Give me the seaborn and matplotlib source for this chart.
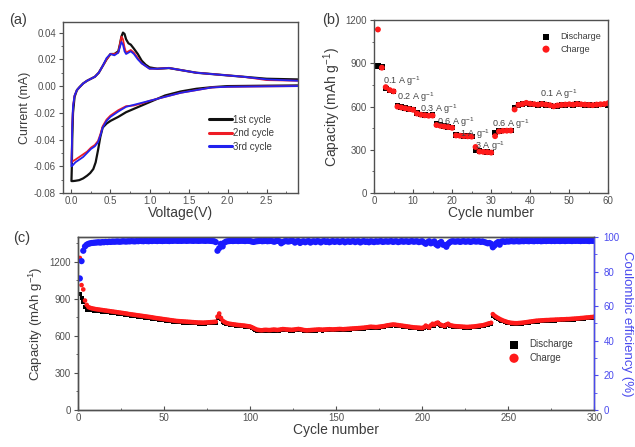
import numpy as np
import matplotlib
matplotlib.use("Agg")
import matplotlib.pyplot as plt
import seaborn as sns
from matplotlib.ticker import MultipleLocator

# ---- (a) CV curves: voltage / current, cathodic scan then anodic scan
cv1_v = [2.9, 2.5, 2.0, 1.8, 1.6, 1.4, 1.2, 1.0, 0.9, 0.8, 0.7, 0.6, 0.5, 0.45, 0.4, 0.37, 0.34, 0.31, 0.28, 0.24, 0.2, 0.15, 0.1, 0.05, 0.02, 0.0,
         0.0, 0.005, 0.01, 0.02, 0.04, 0.07, 0.1, 0.15, 0.2, 0.3, 0.35, 0.4, 0.45, 0.5, 0.55, 0.6, 0.62, 0.64, 0.66, 0.68, 0.7, 0.73, 0.76, 0.8,
         0.85, 0.9, 0.95, 1.0, 1.1, 1.25, 1.4, 1.6, 1.8, 2.0, 2.2, 2.5, 2.9]
cv1_i = [0.0005, 0.0003, 0.0, -0.0008, -0.002, -0.004, -0.007, -0.012, -0.0145, -0.017, -0.0195, -0.023, -0.026, -0.028, -0.031, -0.038,
         -0.048, -0.057, -0.062, -0.065, -0.067, -0.069, -0.0703, -0.0708, -0.071, -0.071,
         -0.071, -0.06, -0.04, -0.02, -0.008, -0.003, -0.001, 0.002, 0.004, 0.007, 0.010, 0.015, 0.02, 0.024, 0.024, 0.026, 0.031, 0.037, 0.040,
         0.039, 0.035, 0.032, 0.031, 0.028, 0.024, 0.019, 0.016, 0.014, 0.013, 0.0135, 0.012, 0.010, 0.009, 0.008, 0.007, 0.0055, 0.005]
cv2_v = [2.9, 2.5, 2.0, 1.8, 1.6, 1.4, 1.2, 1.0, 0.9, 0.8, 0.7, 0.6, 0.5, 0.45, 0.4, 0.37, 0.34, 0.3, 0.25, 0.2, 0.15, 0.1, 0.05, 0.02, 0.0,
         0.0, 0.005, 0.01, 0.02, 0.04, 0.07, 0.1, 0.15, 0.2, 0.3, 0.35, 0.4, 0.45, 0.5, 0.55, 0.6, 0.62, 0.64, 0.66, 0.68, 0.7, 0.73, 0.76, 0.8,
         0.85, 0.9, 0.95, 1.0, 1.1, 1.25, 1.4, 1.6, 1.8, 2.0, 2.2, 2.5, 2.9]
cv2_i = [0.0, -0.0002, -0.0005, -0.001, -0.003, -0.005, -0.008, -0.011, -0.013, -0.0145, -0.015, -0.018, -0.022, -0.025, -0.03, -0.036,
         -0.041, -0.044, -0.046, -0.049, -0.051, -0.053, -0.055, -0.056, -0.057,
         -0.057, -0.045, -0.03, -0.015, -0.007, -0.003, -0.001, 0.002, 0.004, 0.007, 0.010, 0.015, 0.02, 0.024, 0.024, 0.025, 0.031, 0.037,
         0.035, 0.029, 0.025, 0.026, 0.027, 0.025, 0.021, 0.017, 0.015, 0.013, 0.013, 0.0135, 0.012, 0.010, 0.009, 0.008, 0.007, 0.0045, 0.004]
cv3_v = cv2_v
cv3_i = [0.0, -0.0002, -0.0005, -0.001, -0.003, -0.005, -0.008, -0.011, -0.0125, -0.014, -0.0155, -0.019, -0.023, -0.026, -0.031, -0.037,
         -0.042, -0.045, -0.047, -0.05, -0.053, -0.055, -0.057, -0.059, -0.06,
         -0.06, -0.046, -0.03, -0.015, -0.007, -0.003, -0.001, 0.002, 0.004, 0.007, 0.010, 0.015, 0.021, 0.024, 0.023, 0.025, 0.029, 0.033,
         0.031, 0.026, 0.024, 0.025, 0.026, 0.024, 0.020, 0.017, 0.015, 0.013, 0.013, 0.0135, 0.012, 0.010, 0.009, 0.008, 0.007, 0.005, 0.004]

# ---- (b) rate performance
rate_cycle = list(range(1, 61))
rate_dis = [880, 875, 726, 712, 705, 608, 596, 590, 585, 580,
            555, 546, 541, 538, 540, 478, 470, 465, 460, 455,
            405, 400, 398, 395, 393, 298, 290, 288, 285, 282,
            420, 430, 434, 435, 435, 590, 610, 616, 622, 618,
            615, 612, 616, 612, 608, 600, 606, 610, 612, 614,
            612, 616, 614, 612, 610, 608, 612, 614, 615, 612]
rate_chg = [1135, 870, 735, 715, 706, 600, 594, 588, 583, 578,
            552, 544, 540, 537, 538, 472, 467, 462, 458, 453,
            400, 398, 396, 394, 392, 320, 288, 286, 284, 281,
            395, 428, 432, 433, 434, 580, 612, 618, 626, 620,
            617, 614, 618, 614, 610, 602, 608, 612, 614, 616,
            614, 618, 616, 614, 612, 610, 614, 616, 618, 624]
rate_labels = ["0.1 A g$^{-1}$", "0.2 A g$^{-1}$", "0.3 A g$^{-1}$", "0.6 A g$^{-1}$", "1 A g$^{-1}$",
               "3 A g$^{-1}$", "0.6 A g$^{-1}$", "0.1 A g$^{-1}$"]
rate_label_x = [2.3, 5.9, 11.8, 16.2, 21.9, 25.9, 30.3, 42.6]
rate_label_y = [760, 648, 562, 470, 388, 305, 458, 664]

# ---- (c) long cycling
cyc = list(range(1, 301))
cyc_dis = [935, 905, 870, 835, 812, 810, 808, 806, 804, 802,
           800, 798, 797, 795, 794, 792, 790, 789, 787, 785,
           783, 781, 779, 777, 775, 773, 771, 769, 767, 765,
           763, 761, 759, 757, 755, 753, 751, 749, 747, 745,
           743, 741, 739, 737, 735, 733, 731, 729, 727, 725,
           723, 721, 719, 717, 715, 713, 711, 710, 709, 708,
           707, 706, 705, 704, 703, 702, 701, 700, 699, 698,
           698, 697, 697, 698, 699, 700, 701, 702, 703, 705,
           740, 765, 735, 715, 705, 698, 694, 690, 688, 686,
           684, 682, 680, 679, 677, 676, 674, 672, 670, 668,
           662, 655, 648, 642, 640, 638, 638, 640, 641, 640,
           639, 640, 642, 643, 641, 640, 642, 645, 647, 646,
           644, 643, 642, 641, 642, 644, 646, 648, 646, 643,
           640, 638, 637, 638, 639, 640, 641, 642, 643, 644,
           643, 642, 643, 644, 645, 646, 645, 644, 645, 646,
           647, 648, 647, 646, 647, 648, 649, 650, 651, 652,
           653, 654, 655, 656, 657, 658, 660, 662, 664, 666,
           665, 664, 663, 664, 666, 668, 670, 672, 675, 678,
           680, 682, 684, 683, 681, 679, 677, 675, 673, 671,
           669, 667, 665, 663, 661, 660, 659, 658, 657, 656,
           662, 675, 668, 660, 678, 690, 682, 695, 700, 688,
           680, 676, 672, 684, 690, 680, 676, 673, 671, 670,
           669, 668, 667, 666, 665, 664, 665, 666, 667, 668,
           670, 672, 674, 676, 678, 681, 685, 690, 694, 698,
           760, 750, 742, 735, 728, 722, 716, 711, 706, 702,
           699, 697, 696, 695, 695, 696, 697, 698, 700, 702,
           704, 706, 708, 710, 712, 714, 715, 716, 717, 718,
           719, 720, 720, 721, 722, 722, 723, 724, 724, 725,
           726, 726, 727, 728, 728, 729, 730, 731, 732, 733,
           734, 736, 737, 738, 740, 741, 742, 744, 745, 747]
cyc_chg = [1230, 1010, 975, 885, 850, 832, 826, 822, 819, 816,
           814, 812, 810, 808, 806, 804, 802, 800, 798, 796,
           794, 792, 790, 788, 786, 784, 782, 780, 777, 775,
           773, 771, 769, 767, 765, 763, 761, 759, 757, 755,
           753, 751, 749, 746, 744, 742, 740, 738, 736, 734,
           732, 730, 728, 726, 724, 722, 720, 719, 718, 717,
           716, 715, 714, 713, 712, 711, 710, 709, 708, 707,
           707, 706, 706, 707, 708, 709, 710, 711, 712, 714,
           755, 780, 745, 722, 712, 705, 700, 697, 695, 693,
           691, 689, 687, 686, 684, 683, 681, 679, 677, 675,
           669, 662, 655, 649, 647, 645, 645, 647, 648, 647,
           646, 647, 649, 650, 648, 647, 649, 652, 654, 653,
           651, 650, 649, 648, 649, 651, 653, 655, 653, 650,
           647, 645, 644, 645, 646, 647, 648, 649, 650, 651,
           650, 649, 650, 651, 652, 653, 652, 651, 652, 653,
           654, 655, 654, 653, 654, 655, 656, 657, 658, 659,
           660, 661, 662, 663, 664, 665, 667, 669, 671, 673,
           672, 671, 670, 671, 673, 675, 677, 679, 682, 685,
           687, 689, 691, 690, 688, 686, 684, 682, 680, 678,
           676, 674, 672, 670, 668, 667, 666, 665, 664, 663,
           669, 682, 675, 667, 685, 697, 689, 702, 707, 695,
           687, 683, 679, 691, 697, 687, 683, 680, 678, 677,
           676, 675, 674, 673, 672, 671, 672, 673, 674, 675,
           677, 679, 681, 683, 685, 688, 692, 697, 701, 705,
           775, 762, 752, 744, 736, 729, 723, 718, 713, 709,
           706, 704, 703, 702, 702, 703, 704, 705, 707, 709,
           711, 713, 715, 717, 719, 721, 722, 723, 724, 725,
           726, 727, 727, 728, 729, 729, 730, 731, 731, 732,
           733, 733, 734, 735, 735, 736, 737, 738, 739, 740,
           741, 743, 744, 745, 747, 748, 749, 751, 752, 754]
cyc_ce = [76, 86, 92, 94.5, 95.5, 96, 96.3, 96.5, 96.6, 96.7,
          96.8, 96.9, 96.7, 97.0, 96.9, 97.1, 97.0, 97.2, 97.1, 97.3,
          97.2, 97.3, 97.4, 97.2, 97.3, 97.5, 97.4, 97.3, 97.5, 97.4,
          97.6, 97.5, 97.4, 97.6, 97.5, 97.7, 97.6, 97.5, 97.7, 97.6,
          97.5, 97.7, 97.6, 97.8, 97.7, 97.6, 97.8, 97.7, 97.6, 97.7,
          97.8, 97.7, 97.6, 97.8, 97.7, 97.9, 97.8, 97.7, 97.8, 97.7,
          97.8, 97.9, 97.7, 97.8, 97.9, 97.8, 97.7, 97.9, 97.8, 97.7,
          97.8, 97.9, 97.8, 97.7, 97.9, 97.8, 97.7, 97.6, 97.5, 97.0,
          92.0, 93.5, 96.0, 94.5, 96.7, 97.3, 97.5, 97.6, 97.7, 97.6,
          97.7, 97.8, 97.6, 97.7, 97.8, 97.7, 97.6, 97.8, 97.7, 97.6,
          97.3, 97.1, 97.4, 97.5, 97.6, 97.7, 97.5, 97.6, 97.7, 97.5,
          97.6, 97.7, 97.5, 97.2, 97.6, 97.7, 97.5, 96.3, 97.0, 97.5,
          97.6, 97.3, 97.5, 97.7, 97.6, 96.7, 97.4, 97.6, 96.5, 97.2,
          97.5, 96.9, 97.4, 97.6, 96.7, 97.3, 97.5, 97.0, 97.6, 97.4,
          96.8, 97.4, 97.6, 97.1, 97.5, 96.9, 97.3, 97.6, 97.1, 97.4,
          97.5, 97.0, 97.4, 97.6, 96.9, 97.3, 97.5, 97.1, 97.4, 97.6,
          97.0, 97.4, 97.5, 96.8, 97.3, 97.6, 97.1, 97.4, 96.9, 97.5,
          97.3, 97.0, 97.5, 97.2, 97.4, 97.6, 97.1, 97.3, 97.5, 97.2,
          97.4, 97.6, 97.1, 97.4, 97.5, 97.0, 97.3, 97.6, 97.2, 97.4,
          97.5, 97.1, 97.4, 97.6, 97.2, 97.4, 97.5, 97.0, 97.3, 97.5,
          96.7, 96.0, 96.9, 97.5, 96.3, 96.8, 97.4, 95.7, 95.0, 96.5,
          97.1, 95.5, 95.3, 94.3, 96.0, 96.9, 97.4, 97.5, 97.2, 97.4,
          97.5, 97.1, 97.4, 97.6, 97.2, 97.4, 97.5, 97.1, 97.4, 97.6,
          97.3, 97.4, 97.5, 97.1, 97.4, 97.0, 96.7, 96.3, 96.5, 96.0,
          94.0, 95.0, 96.3, 97.0, 95.5, 97.3, 97.5, 97.1, 97.5, 97.3,
          97.5, 97.6, 97.4, 97.5, 97.6, 97.4, 97.5, 97.6, 97.5, 97.7,
          97.6, 97.5, 97.7, 97.6, 97.5, 97.7, 97.6, 97.7, 97.5, 97.6,
          97.7, 97.6, 97.7, 97.8, 97.6, 97.7, 97.6, 97.8, 97.7, 97.6,
          97.7, 97.8, 97.6, 97.7, 97.8, 97.7, 97.6, 97.8, 97.7, 97.8,
          97.7, 97.6, 97.8, 97.7, 97.8, 97.7, 97.6, 97.8, 97.7, 97.8]

sns.set_style("ticks")
plt.rcParams['font.family'] = ['Liberation Sans', 'DejaVu Sans']
txt = '#3c3c3c'
plt.rcParams['text.color'] = txt
plt.rcParams['axes.labelcolor'] = txt
plt.rcParams['xtick.color'] = '#505050'
plt.rcParams['ytick.color'] = '#505050'
plt.rcParams['axes.edgecolor'] = '#505050'
plt.rcParams['axes.linewidth'] = 1.0
plt.rcParams['mathtext.fontset'] = 'custom'
plt.rcParams['mathtext.rm'] = 'Liberation Sans'
plt.rcParams['mathtext.default'] = 'rm'

fig = plt.figure(figsize=(6.35, 4.47), dpi=100)
ax_a = fig.add_axes([0.099, 0.568, 0.370, 0.383])
ax_b = fig.add_axes([0.589, 0.568, 0.369, 0.387])
ax_c = fig.add_axes([0.123, 0.083, 0.813, 0.387])


def style_ticks(ax):
    ax.tick_params(which='major', length=3, width=0.8, labelsize=7, pad=2)
    ax.tick_params(which='minor', length=1.8, width=0.6)
    ax.tick_params(axis='x', which='both', direction='in')
    for s in ax.spines.values():
        s.set_visible(True)


# (a)
sns.lineplot(x=cv1_v, y=cv1_i, sort=False, estimator=None, color='#111111', lw=1.6, label='1st cycle', ax=ax_a)
sns.lineplot(x=cv2_v, y=cv2_i, sort=False, estimator=None, color='#ee1c25', lw=1.3, label='2nd cycle', ax=ax_a)
sns.lineplot(x=cv3_v, y=cv3_i, sort=False, estimator=None, color='#2222ee', lw=1.3, label='3rd cycle', ax=ax_a)
ax_a.set_xlim(-0.11, 2.9)
ax_a.xaxis.set_major_locator(MultipleLocator(0.5))
ax_a.xaxis.set_minor_locator(MultipleLocator(0.25))
ax_a.yaxis.set_minor_locator(MultipleLocator(0.01))
a_ticks = [-0.08, -0.06, -0.04, -0.02, 0.0, 0.02, 0.04]
ax_a.set_yticks(a_ticks)
ax_a.set_yticklabels([f"{v:.2f}" for v in a_ticks])
ax_a.set_ylim(-0.08, 0.048)
ax_a.set_xlabel('Voltage(V)', fontsize=10, labelpad=0)
ax_a.set_ylabel('Current (mA)', fontsize=9, labelpad=2)
style_ticks(ax_a)
ax_a.legend(loc='lower right', bbox_to_anchor=(0.915, 0.22), frameon=False, fontsize=7,
            handlelength=2.4, handletextpad=0.1, labelspacing=0.35, borderaxespad=0)
for ln in ax_a.get_legend().get_lines():
    ln.set_linewidth(2.2)
fig.text(0.015, 0.955, '(a)', fontsize=10.5, va='center')

# (b)
sns.scatterplot(x=rate_cycle, y=rate_dis, marker='s', color='black', s=17, edgecolor='none', label='Discharge', ax=ax_b)
sns.scatterplot(x=rate_cycle, y=rate_chg, marker='o', color='#ff1a1a', s=18, edgecolor='none', label='Charge', ax=ax_b)
for lab, lx, ly in zip(rate_labels, rate_label_x, rate_label_y):
    ax_b.text(lx, ly, lab, fontsize=6.5, color='#444444', ha='left', va='baseline')
ax_b.set_xlim(0, 60)
ax_b.set_ylim(0, 1200)
ax_b.xaxis.set_major_locator(MultipleLocator(10))
ax_b.xaxis.set_minor_locator(MultipleLocator(5))
ax_b.yaxis.set_major_locator(MultipleLocator(300))
ax_b.yaxis.set_minor_locator(MultipleLocator(150))
ax_b.set_xlabel('Cycle number', fontsize=10, labelpad=0)
ax_b.set_ylabel('Capacity (mAh g$^{-1}$)', fontsize=10, labelpad=2)
style_ticks(ax_b)
ax_b.legend(loc='upper right', bbox_to_anchor=(0.985, 0.95), frameon=False, fontsize=6.5,
            markerscale=1.2, handletextpad=0.6, labelspacing=0.35, borderaxespad=0)
fig.text(0.508, 0.955, '(b)', fontsize=10.5, va='center')

# (c)
sns.scatterplot(x=cyc, y=cyc_dis, marker='s', color='black', s=8, edgecolor='none', label='Discharge', ax=ax_c)
sns.scatterplot(x=cyc, y=cyc_chg, marker='o', color='#ff1a1a', s=11, edgecolor='none', label='Charge', ax=ax_c)
ax_c.set_xlim(0, 300)
ax_c.set_ylim(0, 1400)
ax_c.xaxis.set_major_locator(MultipleLocator(50))
ax_c.xaxis.set_minor_locator(MultipleLocator(25))
ax_c.yaxis.set_major_locator(MultipleLocator(300))
ax_c.yaxis.set_minor_locator(MultipleLocator(150))
ax_c.set_xlabel('Cycle number', fontsize=10, labelpad=0)
ax_c.set_ylabel('Capacity (mAh g$^{-1}$)', fontsize=9.5, labelpad=3)
style_ticks(ax_c)
ax_c.legend(loc='center left', bbox_to_anchor=(0.818, 0.34), frameon=False, fontsize=7,
            markerscale=2.0, handletextpad=0.6, labelspacing=0.35, borderaxespad=0)

ax_r = ax_c.twinx()
sns.scatterplot(x=cyc, y=cyc_ce, marker='o', color='#1a1aff', s=20, edgecolor='none', ax=ax_r, legend=False)
ax_r.set_ylim(0, 100)
ax_r.yaxis.set_major_locator(MultipleLocator(20))
ax_r.yaxis.set_minor_locator(MultipleLocator(10))
ax_r.tick_params(axis='y', which='both', colors='#4a4aee', labelsize=7)
ax_r.tick_params(which='major', length=3)
ax_r.tick_params(which='minor', length=1.8)
ax_r.spines['right'].set_color('#4a4aee')
ax_r.set_ylabel('Coulombic efficiency (%)', fontsize=9.5, color='#4a4aee', rotation=270, labelpad=10)
fig.text(0.02, 0.468, '(c)', fontsize=10.5, va='center')

fig.savefig('out.png', dpi=100)
